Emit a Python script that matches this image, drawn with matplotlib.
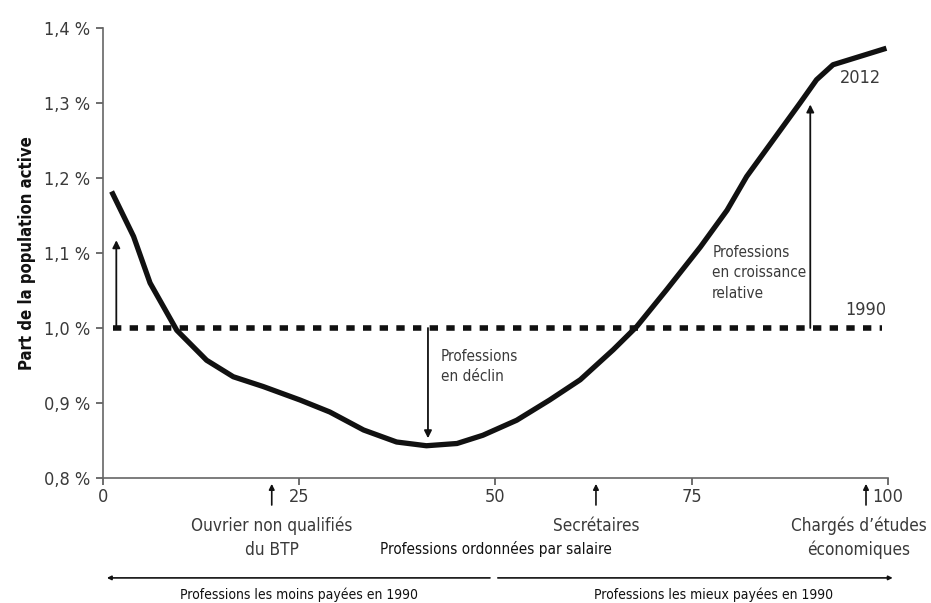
import matplotlib
matplotlib.use('Agg')
import matplotlib.pyplot as plt
import matplotlib.transforms as mtransforms

plt.rcParams['font.family'] = ['DejaVu Sans']
plt.rcParams['font.stretch'] = 'condensed'

# courbe 2012 (rang de la profession, part de la population active en %)
rang = [1.1, 3.9, 6.0, 9.4, 13.2, 16.6, 20.4, 25.1, 28.9, 33.2, 37.4, 41.2,
        45.1, 48.4, 52.7, 56.9, 60.8, 65.0, 68.0, 71.8, 76.1, 79.5, 82.0,
        85.4, 88.8, 90.9, 93.0, 96.4, 99.8]
part_2012 = [1.182, 1.122, 1.060, 0.997, 0.957, 0.935, 0.922, 0.904, 0.888,
             0.864, 0.848, 0.843, 0.846, 0.857, 0.877, 0.904, 0.931, 0.971,
             1.002, 1.051, 1.108, 1.157, 1.202, 1.251, 1.300, 1.331, 1.351,
             1.362, 1.373]
niveau_1990 = 1.0

y_ticks = [0.8, 0.9, 1.0, 1.1, 1.2, 1.3, 1.4]
y_labels = ['0,8 %', '0,9 %', '1,0 %', '1,1 %', '1,2 %', '1,3 %', '1,4 %']
x_ticks = [0, 25, 50, 75, 100]

# professions repérées sous l'axe
repere_x = [21.5, 62.8, 97.2]
repere_txt = ['Ouvrier non qualifiés\ndu BTP', 'Secrétaires',
              'Chargés d\u2019études\néconomiques']

# flèches dans le graphique (x, y départ, y arrivée)
fleches = [(1.7, 1.0, 1.117), (41.4, 1.0, 0.853), (90.1, 1.0, 1.298)]

grey = '#3a3a3a'
fig = plt.figure(figsize=(9.31, 6.03), dpi=100)
ax = fig.add_axes([0.1106, 0.2073, 0.8432, 0.7463])

ax.plot(rang, part_2012, color='#111111', lw=3.8, solid_joinstyle='round',
        solid_capstyle='butt', zorder=3)
ax.plot([1.3, 99.2], [niveau_1990, niveau_1990], color='#111111', lw=4,
        linestyle=(0, (1.5, 1.5)), dash_capstyle='butt')

for x, y0, y1 in fleches:
    ax.annotate('', xy=(x, y1), xytext=(x, y0),
                arrowprops=dict(arrowstyle='-|>', color='#111111', lw=1.3,
                                mutation_scale=11, shrinkA=0, shrinkB=0))

ax.text(96.5, 1.333, '2012', fontsize=13, color=grey, ha='center', va='center')
ax.text(97.2, 1.024, '1990', fontsize=13, color=grey, ha='center', va='center')
ax.text(77.6, 1.111, 'Professions\nen croissance\nrelative', fontsize=11,
        color=grey, ha='left', va='top', linespacing=1.45)
ax.text(43.0, 0.972, 'Professions\nen déclin', fontsize=11, color=grey,
        ha='left', va='top', linespacing=1.45)

ax.set_xlim(0, 100)
ax.set_ylim(0.8, 1.4)
ax.set_yticks(y_ticks)
ax.set_yticklabels(y_labels)
ax.set_xticks(x_ticks)
ax.tick_params(axis='both', colors='#555555', labelcolor=grey, labelsize=13,
               length=5, width=1.2)
ax.tick_params(axis='y', pad=4)
ax.tick_params(axis='x', pad=2)
for side in ['top', 'right']:
    ax.spines[side].set_visible(False)
for side in ['left', 'bottom']:
    ax.spines[side].set_color('#666666')
    ax.spines[side].set_linewidth(1.2)

ax.set_ylabel('Part de la population active', fontsize=12, fontweight='bold',
              color='#111111', labelpad=6)

trans = mtransforms.blended_transform_factory(ax.transData, ax.transAxes)
for x, txt in zip(repere_x, repere_txt):
    ax.annotate('', xy=(x, -0.013), xytext=(x, -0.06), xycoords=trans,
                textcoords=trans, annotation_clip=False,
                arrowprops=dict(arrowstyle='-|>', color='#111111', lw=1.2,
                                mutation_scale=8, shrinkA=0, shrinkB=0))
    # le dernier libellé touche le bord droit : on le recentre un peu
    ax.text(min(x, 96.3), -0.086, txt, transform=trans, ha='center', va='top',
            fontsize=12.3, color=grey, linespacing=1.4)

ax.text(50, -0.158, 'Professions ordonnées par salaire', transform=trans,
        ha='center', va='center', fontsize=11, color='#111111')

ax.annotate('', xy=(0.5, -0.222), xytext=(49.3, -0.222), xycoords=trans,
            textcoords=trans, annotation_clip=False,
            arrowprops=dict(arrowstyle='-|>', color='#111111', lw=1.2,
                            mutation_scale=6, shrinkA=0, shrinkB=0))
ax.annotate('', xy=(100.6, -0.222), xytext=(50.3, -0.222), xycoords=trans,
            textcoords=trans, annotation_clip=False,
            arrowprops=dict(arrowstyle='-|>', color='#111111', lw=1.2,
                            mutation_scale=6, shrinkA=0, shrinkB=0))
ax.text(25.0, -0.26, 'Professions les moins payées en 1990', transform=trans,
        ha='center', va='center', fontsize=10, color='#111111')
ax.text(77.8, -0.26, 'Professions les mieux payées en 1990', transform=trans,
        ha='center', va='center', fontsize=10, color='#111111')

fig.savefig('out.png', dpi=100)
